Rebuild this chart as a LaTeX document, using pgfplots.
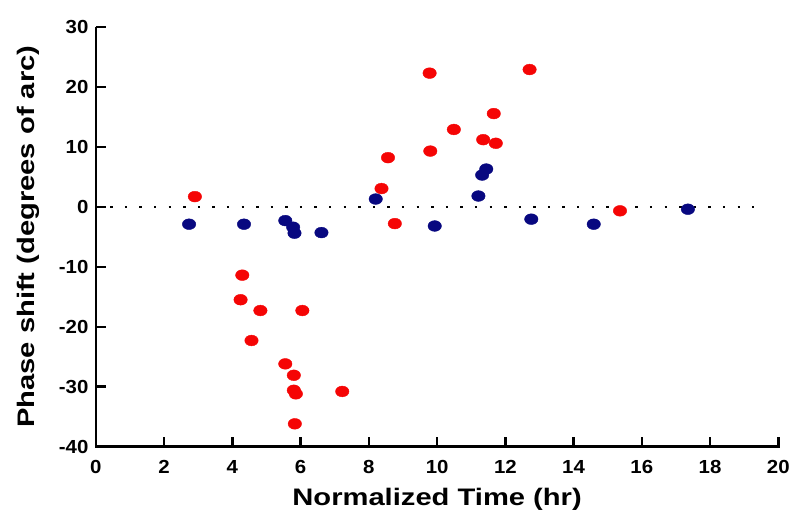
\documentclass[border=0pt]{standalone}
\usepackage{fontspec}
\setmainfont{Liberation Sans}
\newfontfamily\tickfont[FakeStretch=1.08]{Liberation Sans Bold}
\newfontfamily\labfont[FakeStretch=1.22]{Liberation Sans Bold}
\usepackage{pgfplots}
\pgfplotsset{compat=1.18}

\definecolor{ptred}{RGB}{245,5,5}
\definecolor{ptnavy}{RGB}{8,8,128}

\begin{document}
\begin{tikzpicture}
\begin{axis}[
  scale only axis,
  width=683bp, height=420bp,
  xmin=0, xmax=20, ymin=-40, ymax=30,
  xtick={0,2,...,20}, ytick={-40,-30,...,30},
  axis lines*=left,
  axis line style={line width=2.8bp, black},
  tick align=inside,
  major tick length=10bp,
  xtick style={line width=2.4bp, black},
  ytick style={line width=2.4bp, black},
  /pgf/number format/assume math mode=true,
  tick label style={font=\fontsize{19}{22}\selectfont\tickfont},
  xticklabel style={yshift=-10bp},
  yticklabel style={xshift=-4bp},
  label style={font=\fontsize{24}{28}\selectfont\labfont},
  xlabel={Normalized Time (hr)},
  ylabel={Phase shift (degrees of arc)},
  xlabel style={yshift=-8bp},
  ylabel style={yshift=12bp},
  clip=false,
]
% page frame: fixes the picture's proportions
\path ([xshift=-96bp,yshift=-69bp]rel axis cs:0,0) rectangle ([xshift=14bp,yshift=27bp]rel axis cs:1,1);
% zero reference line
\addplot[black, line width=2.4bp, dash pattern=on 2.4bp off 12.2bp] coordinates {(0.42,0) (19.65,0)};
% red group
\addplot[only marks, mark=*, mark size=5.4bp, color=ptred,
  mark options={xscale=1.25, draw=ptred, fill=ptred}] coordinates {
  (2.90,1.7) (4.29,-11.4) (4.24,-15.5) (4.82,-17.3) (6.05,-17.3)
  (4.56,-22.3) (5.55,-26.2) (5.80,-28.1) (5.80,-30.6) (5.86,-31.2)
  (5.83,-36.2) (7.22,-30.8) (8.37,3.05) (8.56,8.2) (8.76,-2.8)
  (9.78,22.3) (9.80,9.3) (10.49,12.9) (11.35,11.2) (11.66,15.55)
  (11.72,10.6) (12.71,22.9) (15.36,-0.67)
};
% navy group
\addplot[only marks, mark=*, mark size=5.4bp, color=ptnavy,
  mark options={xscale=1.25, draw=ptnavy, fill=ptnavy}] coordinates {
  (2.73,-2.9) (4.34,-2.9) (5.55,-2.3) (5.78,-3.4) (5.82,-4.4)
  (6.61,-4.3) (8.20,1.3) (9.93,-3.2) (11.21,1.8) (11.32,5.3)
  (11.44,6.3) (12.76,-2.06) (14.59,-2.9) (17.35,-0.4)
};
% heavy axis frame and inward ticks, as filled bars
\fill[black] ([xshift=-1.4bp]axis cs:0,30) rectangle ([xshift=1.4bp,yshift=-1.4bp]axis cs:0,-40);
\fill[black] ([xshift=-1.4bp,yshift=-1.4bp]axis cs:0,-40) rectangle ([xshift=1.4bp,yshift=1.4bp]axis cs:20,-40);
\pgfplotsinvokeforeach{2,4,...,20}{
  \fill[black] ([xshift=-1.2bp]axis cs:#1,-40) rectangle ([xshift=1.2bp,yshift=9bp]axis cs:#1,-40);
}
\pgfplotsinvokeforeach{-30,-20,...,30}{
  \fill[black] ([yshift=-1.2bp]axis cs:0,#1) rectangle ([xshift=10bp,yshift=1.2bp]axis cs:0,#1);
}
\end{axis}
\end{tikzpicture}
\end{document}
